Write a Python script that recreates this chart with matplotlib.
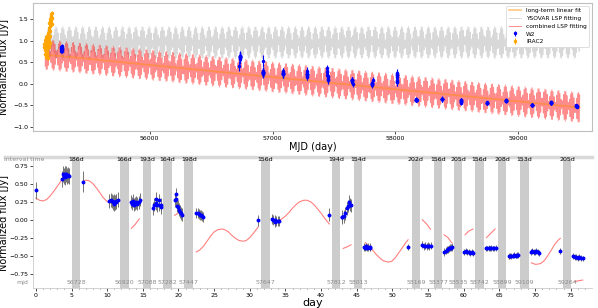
import numpy as np
import matplotlib.pyplot as plt

# IRAC2 (YSOVAR) photometry
irac_mjd = [55142, 55143.5, 55145, 55146.5, 55148, 55149.5, 55151, 55152.5, 55154, 55155.5,
            55157, 55158.5, 55160, 55161.5, 55163, 55164.5, 55166, 55167.5, 55169, 55170.5,
            55172, 55173.5, 55175, 55176.5, 55178, 55179.5, 55181, 55182.5, 55184, 55185.5,
            55187, 55188.5, 55190, 55191.5, 55193, 55194.5, 55196, 55197.5, 55199, 55200.5,
            55202, 55203.5, 55205]
irac_flux = [0.85, 0.92, 0.78, 0.88, 0.95, 0.70, 0.82, 1.02, 0.90, 0.62, 0.86,
             0.98, 1.08, 0.75, 0.93, 0.80, 1.12, 0.68, 0.95, 1.05, 0.88, 1.18,
             0.60, 0.90, 1.25, 1.00, 0.85, 1.30, 1.42, 0.95, 1.10, 1.35, 1.50,
             1.22, 1.45, 1.58, 1.38, 1.62, 1.48, 1.55, 1.65, 1.40, 1.52]
irac_err = 0.05

# early WISE epoch (only in the MJD panel)
w2_early_mjd = [55279, 55280, 55281, 55282, 55283, 55284, 55285, 55286, 55287, 55288]
w2_early_flux = [0.80, 0.84, 0.77, 0.86, 0.82, 0.79, 0.88, 0.83, 0.76, 0.85]
w2_early_err = 0.05

# NEOWISE epochs: start on the compressed "day" axis and start MJD
epoch_day0 = [0.0, 6.57, 13.4, 16.4, 19.45, 22.5, 33.1, 42.9, 46.0, 54.2, 57.3, 60.1,
              63.1, 66.3, 69.4, 75.4]
epoch_mjd0 = [56728, 56920, 57088, 57282, 57447, 57647, 57812, 58013, 58169, 58377,
              58535, 58742, 58899, 59109, 59264, 59473]

# W2 points on the compressed axis
w2_day = [0.0, 3.7, 3.85, 3.95, 4.05, 4.15, 4.25, 4.35, 4.5, 4.6,
          6.57, 10.3, 10.5, 10.7, 10.8, 10.9, 11.0, 11.1, 11.2, 11.3, 11.5,
          13.4, 13.5, 13.6, 13.8, 13.9, 14.0, 14.2, 14.4, 14.6,
          16.4, 16.6, 16.8, 16.9, 17.0, 17.2, 17.3, 17.5, 17.6,
          19.5, 19.6, 19.7, 19.8, 19.95, 20.1, 20.2, 20.35, 20.5,
          22.5, 22.7, 22.9, 23.0, 23.1, 23.3, 23.4, 31.2,
          33.1, 33.3, 33.5, 33.6, 33.7, 33.9, 34.1, 41.06,
          42.9, 43.0, 43.2, 43.4, 43.6, 43.8, 43.9, 44.1, 44.2,
          46.0, 46.2, 46.3, 46.5, 46.6, 46.8, 46.9, 52.2,
          54.2, 54.4, 54.6, 54.8, 55.0, 55.2, 55.4,
          57.3, 57.5, 57.6, 57.8, 57.9, 58.1, 58.2, 58.4,
          60.1, 60.3, 60.5, 60.7, 60.9, 61.1, 61.3,
          63.1, 63.3, 63.5, 63.7, 63.9, 64.1, 64.3, 64.5,
          66.3, 66.5, 66.7, 66.9, 67.1, 67.3, 67.5, 67.6,
          69.4, 69.6, 69.8, 70.0, 70.2, 70.4, 70.6, 73.55,
          75.4, 75.6, 75.8, 76.0, 76.2, 76.4, 76.7]
w2_flux = [0.42, 0.58, 0.64, 0.62, 0.65, 0.60, 0.64, 0.62, 0.63, 0.62,
           0.54, 0.27, 0.28, 0.27, 0.25, 0.26, 0.23, 0.25, 0.27, 0.26, 0.29,
           0.26, 0.23, 0.27, 0.22, 0.24, 0.25, 0.23, 0.25, 0.29,
           0.17, 0.22, 0.30, 0.24, 0.21, 0.28, 0.22, 0.22, 0.18,
           0.28, 0.36, 0.30, 0.20, 0.19, 0.15, 0.12, 0.10, 0.08,
           0.10, 0.10, 0.09, 0.08, 0.08, 0.06, 0.05, 0.00,
           0.02, 0.01, -0.02, 0.00, -0.01, -0.01, -0.01, 0.08,
           0.05, 0.04, 0.06, 0.10, 0.17, 0.20, 0.26, 0.22, 0.21,
           -0.37, -0.38, -0.36, -0.38, -0.37, -0.38, -0.37, -0.37,
           -0.34, -0.36, -0.35, -0.36, -0.35, -0.36, -0.35,
           -0.44, -0.42, -0.41, -0.40, -0.39, -0.38, -0.38, -0.37,
           -0.44, -0.43, -0.44, -0.44, -0.45, -0.44, -0.45,
           -0.39, -0.39, -0.38, -0.39, -0.38, -0.39, -0.39, -0.38,
           -0.50, -0.49, -0.50, -0.49, -0.48, -0.49, -0.48, -0.48,
           -0.44, -0.43, -0.44, -0.44, -0.43, -0.44, -0.45, -0.43,
           -0.50, -0.51, -0.51, -0.52, -0.51, -0.52, -0.53]
w2_err = [0.12, 0.11, 0.11, 0.11, 0.11, 0.11, 0.11, 0.11, 0.11, 0.11,
          0.14, 0.1, 0.1, 0.1, 0.1, 0.1, 0.1, 0.1, 0.1, 0.1, 0.1,
          0.09, 0.09, 0.09, 0.09, 0.09, 0.09, 0.09, 0.09, 0.09,
          0.09, 0.09, 0.09, 0.09, 0.09, 0.09, 0.09, 0.09, 0.09,
          0.09, 0.09, 0.09, 0.09, 0.09, 0.09, 0.09, 0.09, 0.09,
          0.07, 0.07, 0.07, 0.07, 0.07, 0.07, 0.07, 0.08,
          0.07, 0.07, 0.07, 0.07, 0.07, 0.07, 0.07, 0.09,
          0.09, 0.09, 0.09, 0.09, 0.09, 0.09, 0.09, 0.09, 0.09,
          0.05, 0.05, 0.05, 0.05, 0.05, 0.05, 0.05, 0.04,
          0.05, 0.05, 0.05, 0.05, 0.05, 0.05, 0.05,
          0.05, 0.05, 0.05, 0.05, 0.05, 0.05, 0.05, 0.05,
          0.04, 0.04, 0.04, 0.04, 0.04, 0.04, 0.04,
          0.04, 0.04, 0.04, 0.04, 0.04, 0.04, 0.04, 0.04,
          0.04, 0.04, 0.04, 0.04, 0.04, 0.04, 0.04, 0.04,
          0.04, 0.04, 0.04, 0.04, 0.04, 0.04, 0.04, 0.04,
          0.04, 0.04, 0.04, 0.04, 0.04, 0.04, 0.04]

# combined fit seen on the compressed axis (nan = break between epochs)
fit_day = [0.0, 0.5, 1.0, 1.5, 2.0, 2.55, 3.05, 3.55, 3.8, np.nan,
           6.67, 7.0, 7.5, 8.0, 8.5, 9.0, 9.5, 10.0, 10.5, 10.7, np.nan,
           13.4, 13.9, 14.5, np.nan,
           16.4, 16.8, np.nan,
           19.45, 19.8, 20.1, np.nan,
           22.5, 23.0, 23.5, 24.0, 24.5, 25.0, 25.5, 26.1, 26.5, 27.0, 27.5, 28.0,
           28.5, 29.1, 29.5, 30.0, 30.5, 31.2, np.nan,
           33.9, 34.5, 35.0, 35.5, 36.0, 36.5, 37.0, 37.6, 38.0, 38.5, 39.0, 39.5,
           40.0, 40.5, 41.15, np.nan,
           43.1, 43.6, 44.2, np.nan,
           46.2, 46.7, 47.2, 47.7, 48.2, 48.7, 49.4, 49.9, 50.4, 50.9, 51.4, 51.8,
           52.2, np.nan,
           54.2, 54.8, 55.35, np.nan,
           57.25, 57.8, 58.3, np.nan,
           60.2, 60.7, 61.3, np.nan,
           63.2, 63.8, 64.4, np.nan,
           66.4, 66.8, 67.2, np.nan,
           69.5, 70.0, 70.3, 70.8, 71.3, 71.8, 72.3, 72.8, 73.2, 73.55, np.nan,
           75.56, 76.1, 76.7]
fit_flux = [0.31, 0.28, 0.27, 0.29, 0.34, 0.41, 0.48, 0.55, 0.58, np.nan,
            0.55, 0.56, 0.55, 0.51, 0.45, 0.38, 0.31, 0.26, 0.24, 0.235, np.nan,
            -0.11, -0.06, 0.02, np.nan,
            0.16, 0.20, np.nan,
            0.07, 0.09, 0.12, np.nan,
            -0.44, -0.41, -0.36, -0.29, -0.22, -0.16, -0.13, -0.12, -0.13, -0.16,
            -0.21, -0.25, -0.28, -0.29, -0.28, -0.24, -0.18, -0.09, np.nan,
            -0.01, 0.02, 0.06, 0.11, 0.17, 0.22, 0.26, 0.28, 0.28, 0.26, 0.22, 0.16,
            0.10, 0.03, -0.05, np.nan,
            -0.39, -0.37, -0.34, np.nan,
            -0.31, -0.35, -0.41, -0.47, -0.52, -0.56, -0.58, -0.57, -0.52, -0.45,
            -0.38, -0.32, -0.27, np.nan,
            0.01, -0.05, -0.125, np.nan,
            -0.20, -0.24, -0.31, np.nan,
            -0.20, -0.15, -0.12, np.nan,
            -0.24, -0.18, -0.12, np.nan,
            -0.54, -0.52, -0.50, np.nan,
            -0.59, -0.61, -0.61, -0.60, -0.56, -0.49, -0.41, -0.33, -0.28, -0.25, np.nan,
            -0.85, -0.84, -0.83]

# gaps between epochs
gap_day = [5.05, 11.8, 15.0, 17.85, 20.84, 31.6, 41.5, 44.6, 52.7, 55.8, 58.6, 61.6,
           64.8, 67.9, 73.9]
gap_len = ['186d', '166d', '193d', '164d', '198d', '156d', '194d', '154d', '202d',
           '156d', '205d', '156d', '208d', '153d', '205d']
gap_mjd = ['56728', '56920', '57088', '57282', '57447', '57647', '57812', '58013',
           '58169', '58377', '58535', '58742', '58899', '59109', '59264']
gap_width = 1.2

# fit parameters for the long MJD panel
trend_t0, trend_a, trend_slope = 55150, 0.68, -2.82e-4
ysovar_mean, ysovar_amp = 0.96, 0.37
lsp_amp, lsp_period = 0.35, 8.06
model_start, model_end, model_n = 55150, 59500, 1000

# W2 points back on the MJD axis
w2_day_a = np.array(w2_day)
idx = np.searchsorted(epoch_day0, w2_day_a, side='right') - 1
w2_mjd = np.array(epoch_mjd0)[idx] + w2_day_a - np.array(epoch_day0)[idx]

t = np.linspace(model_start, model_end, model_n)
trend = trend_a + trend_slope * (t - trend_t0)
ysovar_fit = ysovar_mean + ysovar_amp * np.sin(2 * np.pi * t / lsp_period)
combined_fit = trend + lsp_amp * np.sin(2 * np.pi * t / lsp_period + 1.3)

fig = plt.figure(figsize=(5.98, 3.08), dpi=100)
ax1 = fig.add_axes([0.055, 0.575, 0.935, 0.415])
ax2 = fig.add_axes([0.055, 0.065, 0.935, 0.425])

# ---- upper panel
ax1.plot(t, trend, color='darkorange', alpha=0.45, lw=1.3, zorder=3,
         label='long-term linear fit')
ax1.plot(t, ysovar_fit, color='gray', alpha=0.3, lw=0.7, label='YSOVAR LSP fitting')
ax1.plot(t, combined_fit, color='red', alpha=0.45, lw=0.7, label='combined LSP fitting')
ax1.errorbar(np.concatenate([w2_early_mjd, w2_mjd]), np.concatenate([w2_early_flux, w2_flux]),
             yerr=np.concatenate([np.full(len(w2_early_mjd), w2_early_err), w2_err]),
             fmt='o', color='blue', ms=1.5, elinewidth=0.8, zorder=4, label='W2')
ax1.errorbar(irac_mjd, irac_flux, yerr=irac_err, fmt='o', color='orange', ms=1.5,
             elinewidth=0.8, zorder=4, label='IRAC2')
ax1.set_xlim(55050, 59600)
ax1.set_ylim(-1.09, 1.875)
ax1.set_xticks([56000, 57000, 58000, 59000])
ax1.set_yticks([-1.0, -0.5, 0.0, 0.5, 1.0, 1.5])
ax1.set_xlabel('MJD (day)', fontsize=7, labelpad=1)
ax1.set_ylabel('Normalized flux [Jy]', fontsize=7)
ax1.yaxis.set_label_coords(-0.043, 0.5)
ax1.tick_params(labelsize=4.5, length=2, width=0.5, pad=1.5)
for s in ax1.spines.values():
    s.set_color('0.75')
    s.set_linewidth(0.8)
leg = ax1.legend(loc='upper right', fontsize=4.2, framealpha=1, edgecolor='0.85',
                 borderpad=0.4, handlelength=2.2, labelspacing=0.45)
leg.get_frame().set_linewidth(0.6)

# ---- lower panel
for x0 in gap_day:
    ax2.axvspan(x0, x0 + gap_width, color='0.8', lw=0, zorder=0)
ax2.plot(fit_day, fit_flux, color='red', alpha=0.5, lw=0.8, zorder=1)
ax2.errorbar(w2_day, w2_flux, yerr=w2_err, fmt='o', color='blue', ms=1.8, ecolor='0.45',
             elinewidth=0.7, zorder=2)
for x0, lab, mjd in zip(gap_day, gap_len, gap_mjd):
    xc = x0 + gap_width / 2
    ax2.text(xc, 0.885, lab, fontsize=4.5, ha='center', va='top', color='black')
    ax2.text(xc, -0.87, mjd, fontsize=4.5, ha='center', va='center', color='0.55')
ax2.plot([-0.05, 1.0], [1.0, 1.0], transform=ax2.transAxes, color='0.85', lw=2.5,
         clip_on=False, zorder=0)
ax2.text(-0.015, 0.985, 'interval time', transform=ax2.transAxes, fontsize=4.5,
         ha='center', va='center', color='0.55')
ax2.text(-0.008, -0.87, 'mjd', transform=ax2.get_yaxis_transform(), fontsize=4.5,
         ha='right', va='center', color='0.55')
ax2.set_xlim(-0.42, 78.0)
ax2.set_ylim(-0.94, 0.88)
ax2.set_xticks(np.arange(0, 80, 5))
ax2.set_xticks(np.arange(0, 78, 1), minor=True)
ax2.set_yticks([-0.75, -0.5, -0.25, 0.0, 0.25, 0.5, 0.75])
ax2.set_xlabel('day', fontsize=8, labelpad=0)
ax2.set_ylabel('Normalized flux [Jy]', fontsize=7)
ax2.yaxis.set_label_coords(-0.043, 0.5)
ax2.tick_params(labelsize=4.5, length=2, width=0.5, pad=1.5)
ax2.tick_params(which='minor', length=1, width=0.4)
ax2.spines['top'].set_visible(False)
ax2.spines['right'].set_visible(False)
for s in ['left', 'bottom']:
    ax2.spines[s].set_color('0.8')
    ax2.spines[s].set_linewidth(0.6)

fig.savefig('out.png', dpi=100)
